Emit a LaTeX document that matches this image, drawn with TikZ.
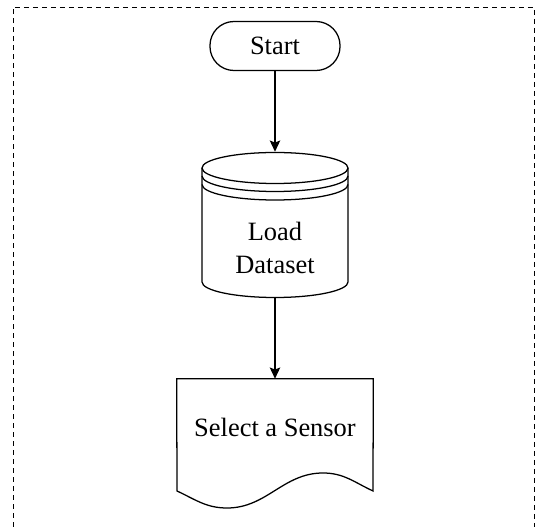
\documentclass[tikz,border=0pt]{standalone}
\usepackage{fontspec}
\setmainfont{Liberation Serif}
\usetikzlibrary{arrows.meta, positioning}

\begin{document}
\begin{tikzpicture}[
      x=0.025cm, y=0.025cm,
      every node/.style={font=\fontsize{18.8}{23.5}\selectfont},
      trm/.style={draw, line width=0.9pt, rounded corners=0.6cm,
                  minimum width=3.25cm, minimum height=1.225cm},
      cyl/.style={minimum width=3.65cm, minimum height=3.625cm, inner sep=0pt},
      doc/.style={minimum width=4.9cm, minimum height=2.4cm, inner sep=0pt},
      shp/.style={line width=0.9pt},
      arr/.style={line width=0.8pt, -{Stealth[length=8pt, width=7.5pt, inset=1.5pt]}}]

    % page and dashed frame (bottom edge runs off the page)
    \useasboundingbox (0,0) rectangle (535,527);
    \draw[line width=0.7pt, dash pattern=on 3.6pt off 2.8pt]
        (13,0) -- (13,520) -- (534,520) -- (534,0);

    % radii of the cylinder ends
    \def\rx{1.825cm}
    \def\ry{0.3875cm}

    % === Start ===
    \node[trm] (start) at (275,481) {Start};

    % === Load Dataset (cylinder) ===
    \node[cyl] (load) at (275,302.5) {};
    \node[align=center] (loadtxt) at (275,279) {Load\\Dataset};
    \draw[shp] (202,359) -- (202,245)
        arc[start angle=180, end angle=360, x radius=\rx, y radius=\ry] -- (348,359);
    \draw[shp] (275,359) ellipse[x radius=\rx, y radius=\ry];
    \foreach \yy in {351,342.5} {
        \draw[shp] (202,\yy) arc[start angle=180, end angle=360, x radius=\rx, y radius=\ry];
    }

    % === Select a Sensor (document) ===
    \node[doc] (sel) at (275,100) {Select a Sensor};
    \draw[shp] (sel.north west) -- (sel.north east) -- (373,36)
        to[out=155, in=0] (323,54) to[out=180, in=0] (227,19)
        to[out=180, in=-25] (177,36) -- cycle;

    % connectors
    \draw[arr] (start) -- (load);
    \draw[arr] (load) -- (sel);

\end{tikzpicture}
\end{document}
